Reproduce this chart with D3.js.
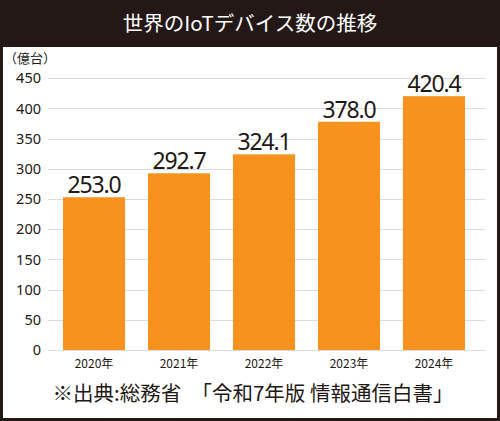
<!DOCTYPE html>
<html>
<head>
<meta charset="utf-8">
<title>世界のIoTデバイス数の推移</title>
<script src="https://d3js.org/d3.v7.min.js"></script>
<style>
	body { margin: 0; background: #fff; }
	svg { display: block; }
	text { fill: #231815; }
</style>
</head>
<body>
<div id="chart"></div>
<script>
// data
var years = ["2020年", "2021年", "2022年", "2023年", "2024年"];
var devices = [253.0, 292.7, 324.1, 378.0, 420.4];
var yTicks = [0, 50, 100, 150, 200, 250, 300, 350, 400, 450];

var W = 500, H = 421;
var frame = "#231815";
var jp = "'Noto Sans CJK JP', 'Noto Sans', sans-serif";
var num = "'Noto Sans', 'Noto Sans CJK JP', sans-serif";

var svg = d3.select("#chart").append("svg")
	.attr("width", W)
	.attr("height", H);

// dark frame + title bar, white panel inside
svg.append("rect").attr("width", W).attr("height", H).attr("fill", frame);
svg.append("rect")
	.attr("x", 3).attr("y", 47)
	.attr("width", W - 6).attr("height", H - 47 - 3)
	.attr("fill", "#fff");

svg.append("text")
	.attr("x", W / 2).attr("y", 31)
	.attr("text-anchor", "middle")
	.style("fill", "#fff")
	.style("font-family", jp)
	.style("font-size", "20.5px")
	.text("世界のIoTデバイス数の推移");

var x = d3.scaleBand()
	.domain(years)
	.range([51.5, 476.5])
	.paddingInner(0.27)
	.paddingOuter(0.135);

var y = d3.scaleLinear()
	.domain([0, 450])
	.range([350, 78.3]);

// gridlines
svg.append("g").selectAll("line")
	.data(yTicks)
	.enter().append("line")
	.attr("x1", 48).attr("x2", 485)
	.attr("y1", function(d) { return Math.round(y(d)) + 0.5; })
	.attr("y2", function(d) { return Math.round(y(d)) + 0.5; })
	.style("stroke", "#dcdcdc")
	.style("stroke-width", 1.2);

// y axis labels
var yAxis = svg.append("g")
	.attr("transform", "translate(41,0)")
	.call(d3.axisLeft(y).tickValues(yTicks).tickSize(0).tickPadding(0));
yAxis.select(".domain").remove();
yAxis.selectAll("text")
	.style("font-family", num)
	.style("font-size", "14.5px")
	.style("fill", "#231815");

svg.append("text")
	.attr("x", 4).attr("y", 63)
	.style("font-family", jp)
	.style("font-size", "13px")
	.text("（億台）");

// bars
svg.append("g").selectAll("rect")
	.data(devices)
	.enter().append("rect")
	.attr("x", function(d, i) { return x(years[i]); })
	.attr("width", x.bandwidth())
	.attr("y", function(d) { return y(d); })
	.attr("height", function(d) { return y(0) - y(d); })
	.attr("fill", "#f8921e");

// value labels
svg.append("g").selectAll("text")
	.data(devices)
	.enter().append("text")
	.attr("x", function(d, i) { return x(years[i]) + x.bandwidth() / 2; })
	.attr("y", function(d) { return y(d) - 4; })
	.attr("text-anchor", "middle")
	.style("font-family", num)
	.style("font-size", "23px")
	.style("letter-spacing", "-1.2px")
	.text(function(d) { return d.toFixed(1); });

// x axis labels
var xAxis = svg.append("g")
	.attr("transform", "translate(0,359)")
	.call(d3.axisBottom(x).tickSize(0).tickPadding(0));
xAxis.select(".domain").remove();
xAxis.selectAll("text")
	.attr("dy", "0.71em")
	.style("font-family", jp)
	.style("font-size", "12px")
	.style("fill", "#231815");

// source note
svg.append("text")
	.attr("x", 253).attr("y", 401)
	.attr("text-anchor", "middle")
	.style("font-family", jp)
	.style("font-size", "20.5px")
	.text("※出典:総務省　「令和7年版 情報通信白書」");
</script>
</body>
</html>
